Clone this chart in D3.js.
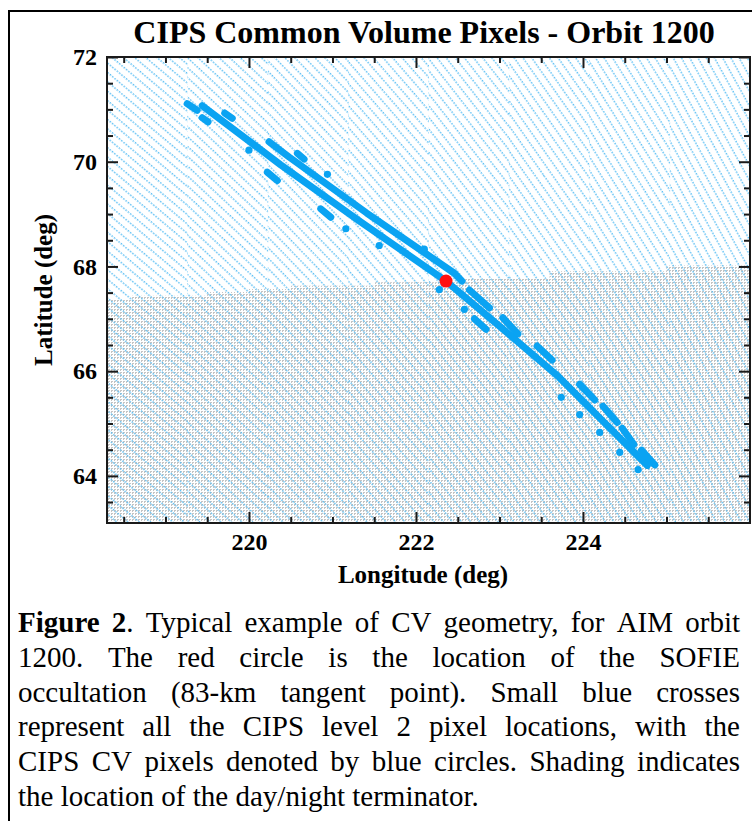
<!DOCTYPE html>
<html>
<head>
<meta charset="utf-8">
<script src="https://cdn.jsdelivr.net/npm/d3@7"></script>
<style>
  body { margin: 0; background: #fff; }
  svg { display: block; }
  .serif { font-family: "Liberation Serif", "Times New Roman", serif; }
</style>
</head>
<body>
<div id="chart"></div>
<script>
// ------------------------------
// Data
// ------------------------------
const lonDomain = [218.3, 226.0];
const latDomain = [63.1, 72.0];
const lonMajorTicks = [220, 222, 224];
const latMajorTicks = [64, 66, 68, 70, 72];
const lonMinorTicks = [218.5, 219, 219.5, 220.5, 221, 221.5, 222.5, 223, 223.5, 224.5, 225, 225.5];
const latMinorTicks = [63.5, 64.5, 65, 65.5, 66.5, 67, 67.5, 68.5, 69, 69.5, 70.5, 71, 71.5];

// day/night terminator (top edge of the shaded night side)
const terminatorLon = [218.3, 218.6, 219.5, 220.0, 220.5, 221.5, 222.5, 223.6, 225.0, 226.0];
const terminatorLat = [67.38, 67.44, 67.51, 67.57, 67.63, 67.70, 67.78, 67.91, 68.02, 68.02];

// CV pixel tracks: continuous runs of overlapping blue circles
const cvMainTrack = [[219.44, 71.07], [220.38, 69.94], [221.32, 68.87], [222.36, 67.72], [223.03, 66.82], [223.71, 65.89], [224.77, 64.20]];
const cvUpperTrack = [[220.24, 70.38], [220.48, 70.09], [221.41, 69.02], [222.46, 67.87], [222.55, 67.72]];

// shorter runs [lon1, lat1, lon2, lat2]
const cvDashes = [
  [219.26, 71.11, 219.38, 70.98],
  [219.44, 70.84, 219.51, 70.76],
  [219.71, 70.93, 219.80, 70.83],
  [220.22, 69.80, 220.34, 69.64],
  [220.58, 70.16, 220.66, 70.05],
  [220.86, 69.10, 220.98, 68.94],
  [222.64, 67.55, 222.88, 67.21],
  [222.70, 67.00, 222.84, 66.80],
  [223.04, 67.02, 223.22, 66.71],
  [223.45, 66.48, 223.63, 66.21],
  [223.96, 65.75, 224.14, 65.45],
  [224.24, 65.33, 224.41, 65.02],
  [224.47, 64.91, 224.61, 64.60],
  [224.70, 64.49, 224.86, 64.21]
];

// single CV pixels
const cvDots = [
  [220.00, 70.22], [220.94, 69.76], [221.16, 68.72], [221.56, 68.40], [222.10, 68.33],
  [222.28, 67.56], [222.58, 67.18], [223.74, 65.50], [223.96, 65.17], [224.20, 64.83],
  [224.44, 64.45], [224.66, 64.12]
];

// SOFIE occultation, 83-km tangent point
const sofiePoint = [222.36, 67.72];

const titleText = "CIPS Common Volume Pixels - Orbit 1200";
const xLabel = "Longitude (deg)";
const yLabel = "Latitude (deg)";

const captionLines = [
  [[["Figure", true]], [["2", true], [".", false]], "Typical", "example", "of", "CV", "geometry,", "for", "AIM", "orbit"],
  ["1200.", "The", "red", "circle", "is", "the", "location", "of", "the", "SOFIE"],
  ["occultation", "(83-km", "tangent", "point).", "Small", "blue", "crosses"],
  ["represent", "all", "the", "CIPS", "level", "2", "pixel", "locations,", "with", "the"],
  ["CIPS", "CV", "pixels", "denoted", "by", "blue", "circles.", "Shading", "indicates"],
  ["the", "location", "of", "the", "day/night", "terminator."]
];

// ------------------------------
// Drawing
// ------------------------------
const width = 752, height = 821;
const plot = { left: 107, right: 750, top: 57, bottom: 523 };
const cvBlue = "#0aa3f2";

const svg = d3.select("#chart").append("svg")
  .attr("width", width)
  .attr("height", height);

svg.append("rect").attr("width", width).attr("height", height).attr("fill", "#fff");

// figure border
svg.append("rect")
  .attr("x", 9).attr("y", 11)
  .attr("width", 800).attr("height", 900)
  .attr("fill", "none").attr("stroke", "#000").attr("stroke-width", 2);

const x = d3.scaleLinear().domain(lonDomain).range([plot.left, plot.right]);
const y = d3.scaleLinear().domain(latDomain).range([plot.bottom, plot.top]);

const defs = svg.append("defs");

// pixel-location crosses: dotted diagonal lines, a little steeper towards the east
const hatchAngles = [40, 43, 46, 49, 52, 55, 58, 61];
const bandWidth = (plot.right - plot.left) / hatchAngles.length;
const hatchBands = hatchAngles.map((angle, i) => ({
  id: "hatch-" + i,
  from: plot.left + i * bandWidth,
  angle: angle
}));

hatchBands.forEach(b => {
  const p = defs.append("pattern")
    .attr("id", b.id)
    .attr("patternUnits", "userSpaceOnUse")
    .attr("width", 3).attr("height", 7.2)
    .attr("patternTransform", `rotate(${b.angle})`);
  p.append("rect").attr("x", 0).attr("y", 0).attr("width", 1.5).attr("height", 1.5).attr("fill", "#5cbff4");
});

// night-side shading: fine grey grid
const grid = defs.append("pattern")
  .attr("id", "night-grid")
  .attr("patternUnits", "userSpaceOnUse")
  .attr("width", 3).attr("height", 3);
grid.append("rect").attr("x", 0).attr("y", 0).attr("width", 2).attr("height", 1).attr("fill", "#c4c4c4");
grid.append("rect").attr("x", 0).attr("y", 1).attr("width", 1).attr("height", 1).attr("fill", "#c4c4c4");

defs.append("clipPath").attr("id", "plot-clip")
  .append("rect")
  .attr("x", plot.left).attr("y", plot.top)
  .attr("width", plot.right - plot.left).attr("height", plot.bottom - plot.top);

const body = svg.append("g").attr("clip-path", "url(#plot-clip)");

const terminator = terminatorLon.map((lon, i) => ({ lon: lon, lat: terminatorLat[i] }));
const nightArea = d3.area()
  .curve(d3.curveStepAfter)
  .x(d => x(d.lon))
  .y0(y(latDomain[0]))
  .y1(d => y(d.lat));

body.append("path")
  .datum(terminator)
  .attr("d", nightArea)
  .attr("fill", "url(#night-grid)");

body.selectAll(".hatch")
  .data(hatchBands)
  .enter()
  .append("rect")
  .attr("class", "hatch")
  .attr("x", d => d.from).attr("y", plot.top)
  .attr("width", bandWidth + 0.5).attr("height", plot.bottom - plot.top)
  .attr("fill", d => `url(#${d.id})`);

// CV pixels
const track = d3.line()
  .x(d => x(d[0]))
  .y(d => y(d[1]));

body.selectAll(".cv-track")
  .data([cvMainTrack, cvUpperTrack])
  .enter()
  .append("path")
  .attr("class", "cv-track")
  .attr("d", track)
  .attr("fill", "none")
  .attr("stroke", cvBlue)
  .attr("stroke-width", 7)
  .attr("stroke-linecap", "round")
  .attr("stroke-linejoin", "round");

body.selectAll(".cv-dash")
  .data(cvDashes)
  .enter()
  .append("line")
  .attr("class", "cv-dash")
  .attr("x1", d => x(d[0]))
  .attr("y1", d => y(d[1]))
  .attr("x2", d => x(d[2]))
  .attr("y2", d => y(d[3]))
  .attr("stroke", cvBlue)
  .attr("stroke-width", 7)
  .attr("stroke-linecap", "round");

body.selectAll(".cv-dot")
  .data(cvDots)
  .enter()
  .append("circle")
  .attr("class", "cv-dot")
  .attr("cx", d => x(d[0]))
  .attr("cy", d => y(d[1]))
  .attr("r", 3.6)
  .attr("fill", cvBlue);

body.append("circle")
  .attr("cx", x(sofiePoint[0]))
  .attr("cy", y(sofiePoint[1]))
  .attr("r", 6.5)
  .attr("fill", "#ff1010");

// axes with inward ticks on all four sides
function styleAxis(g) {
  g.select(".domain").remove();
  g.selectAll(".tick line").attr("stroke", "#1a1a1a").attr("stroke-width", 2);
  g.selectAll(".tick text")
    .attr("class", "serif")
    .attr("fill", "#000")
    .attr("font-size", 24)
    .attr("font-weight", "bold");
}

const axes = [
  { make: () => d3.axisBottom(x), at: [0, plot.bottom], major: lonMajorTicks, minor: lonMinorTicks, labels: true },
  { make: () => d3.axisTop(x), at: [0, plot.top], major: lonMajorTicks, minor: lonMinorTicks, labels: false },
  { make: () => d3.axisLeft(y), at: [plot.left, 0], major: latMajorTicks, minor: latMinorTicks, labels: true },
  { make: () => d3.axisRight(y), at: [plot.right, 0], major: latMajorTicks, minor: latMinorTicks, labels: false }
];

axes.forEach(a => {
  svg.append("g")
    .attr("transform", `translate(${a.at[0]},${a.at[1]})`)
    .call(a.make().tickValues(a.minor).tickSize(-6).tickFormat(""))
    .call(styleAxis);
  svg.append("g")
    .attr("transform", `translate(${a.at[0]},${a.at[1]})`)
    .call(a.make().tickValues(a.major).tickSize(-11).tickPadding(10)
      .tickFormat(a.labels ? d3.format("d") : ""))
    .call(styleAxis);
});

svg.append("rect")
  .attr("x", plot.left).attr("y", plot.top)
  .attr("width", plot.right - plot.left).attr("height", plot.bottom - plot.top)
  .attr("fill", "none").attr("stroke", "#1a1a1a").attr("stroke-width", 2);

// titles
svg.append("text")
  .attr("class", "serif")
  .attr("x", 424).attr("y", 43)
  .attr("text-anchor", "middle")
  .attr("font-size", 32).attr("font-weight", "bold")
  .text(titleText);

svg.append("text")
  .attr("class", "serif")
  .attr("x", 423).attr("y", 583)
  .attr("text-anchor", "middle")
  .attr("font-size", 25).attr("font-weight", "bold")
  .text(xLabel);

svg.append("text")
  .attr("class", "serif")
  .attr("transform", "translate(52,290) rotate(-90)")
  .attr("text-anchor", "middle")
  .attr("font-size", 25).attr("font-weight", "bold")
  .text(yLabel);

// caption, justified between the border margins
const capLeft = 18, capRight = 740, capTop = 632, capStep = 34.8, capSize = 29;
const caption = svg.append("g").attr("class", "serif");

captionLines.forEach((words, li) => {
  const yPos = capTop + li * capStep;
  const nodes = words.map(w => {
    const t = caption.append("text").attr("y", yPos).attr("font-size", capSize).attr("fill", "#000");
    const runs = typeof w === "string" ? [[w, false]] : w;
    runs.forEach(r => t.append("tspan").attr("font-weight", r[1] ? "bold" : null).text(r[0]));
    return t;
  });
  const widths = nodes.map(n => n.node().getComputedTextLength());
  const total = d3.sum(widths);
  const last = li === captionLines.length - 1;
  const gap = last ? capSize * 0.25 : (capRight - capLeft - total) / (words.length - 1);
  let pos = capLeft;
  nodes.forEach((n, i) => {
    n.attr("x", pos);
    pos += widths[i] + gap;
  });
});
</script>
</body>
</html>
